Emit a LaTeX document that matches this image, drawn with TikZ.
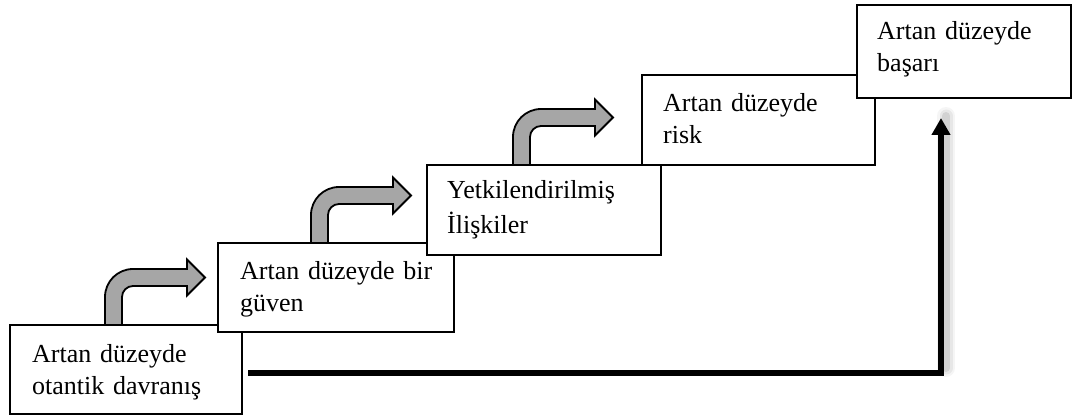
\documentclass[tikz,border=0pt]{standalone}
\usepackage{fontspec}
\setmainfont{Liberation Serif}
\usetikzlibrary{arrows.meta}

\begin{document}
\begin{tikzpicture}[x=1pt, y=-1pt,
  stepbox/.style={draw=black, line width=1.8pt, fill=white, rectangle,
    inner sep=0pt, outer sep=0pt, anchor=north west},
  boxtext/.style={anchor=base west, inner sep=0pt, text width=215pt,
    align=left, font=\fontsize{26}{32}\selectfont},
  arrowbody/.style={draw=black, line width=1.8pt, fill=gray!70, line join=miter},
  bigline/.style={draw=black, line width=6pt,
    -{Triangle[width=18pt, length=17pt]}},
  bentarrow/.pic={
    % shaft rises from the box top, bends right and ends in a head
    \path[arrowbody]
      (94,0) -- (94,-28)
      arc[start angle=180, end angle=90, radius=28pt]
      -- (176,-56) -- (176,-65.5) -- (194,-47.5) -- (176,-29.5) -- (176,-39)
      -- (122,-39)
      arc[start angle=90, end angle=180, radius=11pt]
      -- (111,0) -- cycle;
  }
]
\useasboundingbox (0,0) rectangle (1073,417);

% soft shadow beside the rising connector
\foreach \w/\o in {18/0.04, 13/0.06, 8/0.09}{
  \draw[line width=\w pt, draw=black, opacity=\o, line cap=round] (946,368) -- (946,116);
}

% connector from the first step up to the last one
\coordinate (lstart) at (248,373);
\coordinate (lend) at (941,118);
\draw[bigline] (lstart) -| (lend);

% the steps
\node[stepbox, minimum width=232pt, minimum height=89pt] (b1) at (10,325) {};
\node[stepbox, minimum width=236pt, minimum height=89pt] (b2) at (218,243) {};
\node[stepbox, minimum width=234pt, minimum height=90pt] (b3) at (427,165) {};
\node[stepbox, minimum width=233pt, minimum height=90pt] (b4) at (642,75) {};
\node[stepbox, minimum width=214pt, minimum height=93pt] (b5) at (857,5) {};

\node[boxtext] (t1) at ([xshift=22pt, yshift=-37pt]b1.north west) {Artan düzeyde\\otantik davranış};
\node[boxtext] (t2) at ([xshift=22pt, yshift=-36pt]b2.north west) {Artan düzeyde bir\\güven};
\node[boxtext] (t3) at ([xshift=20pt, yshift=-33pt]b3.north west) {Yetkilendirilmiş\\[3pt]İlişkiler};
\node[boxtext] (t4) at ([xshift=21pt, yshift=-37pt]b4.north west) {Artan düzeyde\\risk};
\node[boxtext] (t5) at ([xshift=20pt, yshift=-35pt]b5.north west) {Artan düzeyde\\başarı};

% bent arrows climbing from each step to the next
\pic at (11,325) {bentarrow};
\pic at (217,243) {bentarrow};
\pic at (419,165) {bentarrow};
\end{tikzpicture}
\end{document}
